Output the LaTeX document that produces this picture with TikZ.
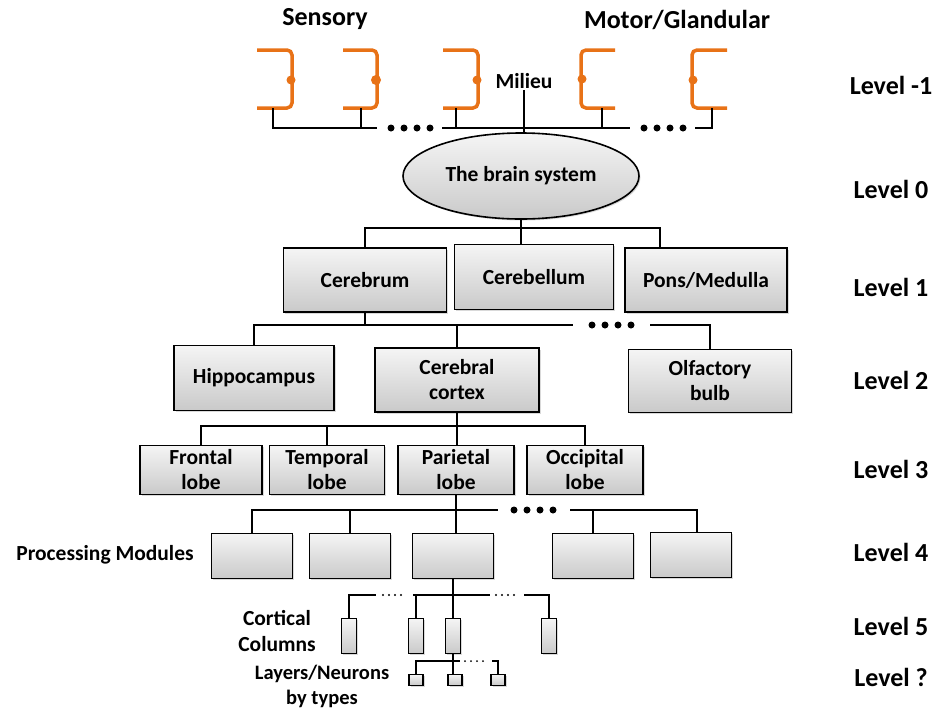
\documentclass[tikz,border=0pt]{standalone}
\usepackage{fontspec}
\setmainfont{Carlito}
\usepackage{tikz}
\usetikzlibrary{positioning}
\usetikzlibrary{shapes.geometric}
\usetikzlibrary{shadows}
\definecolor{brkorange}{RGB}{232,114,23}
\tikzset{
    wire/.style = {line width=2.5pt, black},
    thinwire/.style = {line width=2pt, black},
    gapdots/.style = {line width=7pt, line cap=round, dash pattern=on 0pt off 13pt},
    smalldots/.style = {line width=2.4pt, line cap=round, dash pattern=on 0pt off 6pt},
    brk/.style = {line width=3.5pt, brkorange, rounded corners=5pt},
    box/.style = {rectangle, draw=black, line width=1.6pt, top color=gray!8, bottom color=gray!42, align=center, inner sep=2pt, font=\bfseries\fontsize{21.5}{25}\selectfont, drop shadow={opacity=0.3, shadow xshift=1.5pt, shadow yshift=-1.5pt}},
    lvl/.style = {font=\bfseries\fontsize{26}{30}\selectfont},
    side/.style = {align=center, font=\bfseries\fontsize{21.5}{26}\selectfont},
}
\begin{document}
\begin{tikzpicture}[x=1pt, y=-1pt]
\useasboundingbox (0,0) rectangle (933,710);
% headers and level labels
\node[lvl] (sensory) at (325,19) {Sensory};
\node[lvl] (motor) at (677,20) {Motor/Glandular};
\node[side, inner sep=1pt] (milieu) at (524,81) {Milieu};
\node[lvl] (lvlm1) at (891,85) {Level -1};
\node[lvl] (lvl0) at (891,189) {Level 0};
\node[lvl] (lvl1) at (891,287) {Level 1};
\node[lvl] (lvl2) at (891,380) {Level 2};
\node[lvl] (lvl3) at (891,469) {Level 3};
\node[lvl] (lvl4) at (891,552) {Level 4};
\node[lvl] (lvl5) at (891,626) {Level 5};
\node[lvl] (lvlq) at (891,677) {Level ?};
\node[side] (pmlabel) at (105,555) {Processing Modules};
\node[side] (cclabel) at (277,631) {Cortical\\Columns};
\node[side, font=\bfseries\fontsize{20.5}{25}\selectfont] (lylabel) at (322,686) {Layers/Neurons\\by types};
%
% sensory / motor brackets
\draw[brk] (257,50) -- (292,50) -- (292,108) -- (257,108);
\draw[brk] (343,50) -- (377,50) -- (377,108) -- (343,108);
\draw[brk] (443,50) -- (478,50) -- (478,108) -- (443,108);
\draw[brk] (615,50) -- (581,50) -- (581,108) -- (615,108);
\draw[brk] (727,50) -- (692,50) -- (692,108) -- (727,108);
\fill[brkorange] (291,80) circle (4.5);
\fill[brkorange] (376,80) circle (5);
\fill[brkorange] (477,80) circle (4.5);
\fill[brkorange] (582,79) circle (4.5);
\fill[brkorange] (693,80) circle (4.5);
\coordinate (sA) at (273,108);
\coordinate (sB) at (361,108);
\coordinate (sC) at (456,108);
\coordinate (sD) at (602,108);
\coordinate (sE) at (712,108);
%
\node[box, ellipse, minimum width=236pt, minimum height=86pt] (brain) at (521,176) {The brain system};
%
\node[box, minimum width=163pt, minimum height=64pt] (cerebrum) at (365,280) {Cerebrum};
\node[box, minimum width=159pt, minimum height=65pt] (cerebellum) at (534,277) {Cerebellum};
\node[box, minimum width=162pt, minimum height=64pt] (pons) at (706,280) {Pons/Medulla};
%
\node[box, minimum width=160pt, minimum height=65pt] (hippo) at (254,378) {Hippocampus};
\node[box, minimum width=164pt, minimum height=64pt] (cortex) at (457,380) {Cerebral\\cortex};
\node[box, minimum width=163pt, minimum height=63pt] (olfact) at (710,381) {Olfactory\\bulb};
%
\node[box, minimum width=122pt, minimum height=49pt] (frontal) at (201,470) {Frontal\\lobe};
\node[box, minimum width=115pt, minimum height=49pt] (temporal) at (327,470) {Temporal\\lobe};
\node[box, minimum width=116pt, minimum height=49pt] (parietal) at (456,470) {Parietal\\lobe};
\node[box, minimum width=116pt, minimum height=49pt] (occipital) at (585,470) {Occipital\\lobe};
%
\node[box, minimum width=81pt, minimum height=45pt] (pm1) at (252,556) {};
\node[box, minimum width=81pt, minimum height=45pt] (pm2) at (350,556) {};
\node[box, minimum width=81pt, minimum height=45pt] (pm3) at (453,556) {};
\node[box, minimum width=81pt, minimum height=45pt] (pm4) at (593,556) {};
\node[box, minimum width=81pt, minimum height=45pt] (pm5) at (691,555) {};
%
\node[box, line width=1.3pt, minimum width=15pt, minimum height=35pt, inner sep=0pt] (cc1) at (349,636) {};
\node[box, line width=1.3pt, minimum width=15pt, minimum height=35pt, inner sep=0pt] (cc2) at (416,636) {};
\node[box, line width=1.3pt, minimum width=15pt, minimum height=35pt, inner sep=0pt] (cc3) at (453,636) {};
\node[box, line width=1.3pt, minimum width=15pt, minimum height=35pt, inner sep=0pt] (cc4) at (549,636) {};
%
\node[box, line width=1.2pt, minimum width=14pt, minimum height=11pt, inner sep=0pt] (ly1) at (416,680) {};
\node[box, line width=1.2pt, minimum width=14pt, minimum height=11pt, inner sep=0pt] (ly2) at (455,680) {};
\node[box, line width=1.2pt, minimum width=14pt, minimum height=11pt, inner sep=0pt] (ly3) at (498,680) {};
%
% level -1 bus
\coordinate (t1) at (377,128);
\coordinate (td1) at (391,128);
\coordinate (td2) at (431,128);
\coordinate (t2) at (442,128);
\coordinate (t3) at (630,128);
\coordinate (td3) at (644,128);
\coordinate (td4) at (684,128);
\coordinate (t4) at (695,128);
\draw[wire] (sA) |- (t1);
\draw[wire] (sB) -- (sB |- t1);
\draw[gapdots] (td1) -- (td2);
\draw[wire] (t2) -- (t3);
\draw[wire] (sC) -- (sC |- t2);
\draw[wire] (milieu.south) -- (milieu.south |- brain.north);
\draw[wire] (sD) -- (sD |- t2);
\draw[gapdots] (td3) -- (td4);
\draw[wire] (t4) -| (sE);
%
% level 1 bus
\coordinate (l1l) at (365,228);
\coordinate (l1r) at (660,228);
\draw[wire] (brain.south) -- (brain.south |- cerebellum.north);
\draw[wire] (cerebrum.north) -- (l1l) -- (l1r) -- (l1r |- pons.north);
%
% level 2 bus
\coordinate (l2l) at (255,325);
\coordinate (l2r) at (573,325);
\coordinate (l2d1) at (592,325);
\coordinate (l2d2) at (632,325);
\coordinate (l2e) at (650,325);
\draw[wire] (cerebrum.south) -- (cerebrum.south |- l2l);
\draw[wire] (hippo.north) |- (l2r);
\draw[wire] (cortex.north) -- (cortex.north |- l2l);
\draw[gapdots] (l2d1) -- (l2d2);
\draw[wire] (l2e) -| (olfact.north);
%
% level 3 bus
\coordinate (l3) at (456,426);
\draw[wire] (cortex.south) -- (cortex.south |- parietal.north);
\draw[wire] (frontal.north) |- (l3) -| (occipital.north);
\draw[wire] (temporal.north) -- (temporal.north |- l3);
%
% level 4 bus
\coordinate (m4a) at (498,510);
\coordinate (m4d1) at (514,510);
\coordinate (m4d2) at (554,510);
\coordinate (m4b) at (570,510);
\draw[wire] (parietal.south) -- (parietal.south |- pm3.north);
\draw[wire] (pm1.north) |- (m4a);
\draw[wire] (pm2.north) -- (pm2.north |- m4a);
\draw[gapdots] (m4d1) -- (m4d2);
\draw[wire] (m4b) -| ([xshift=6pt]pm5.north);
\draw[wire] (pm4.north) -- (pm4.north |- m4b);
%
% level 5 bus
\coordinate (c5a) at (376,595);
\coordinate (c5d1) at (383,595);
\coordinate (c5d2) at (407,595);
\coordinate (c5b) at (413,595);
\coordinate (c5c) at (490,595);
\coordinate (c5d3) at (496,595);
\coordinate (c5d4) at (518,595);
\coordinate (c5e) at (524,595);
\draw[wire] (pm3.south) -- (pm3.south |- cc3.north);
\draw[wire] (cc1.north) |- (c5a);
\draw[smalldots] (c5d1) -- (c5d2);
\draw[wire] (c5b) -- (c5c);
\draw[wire] (cc2.north) -- (cc2.north |- c5b);
\draw[smalldots] (c5d3) -- (c5d4);
\draw[wire] (c5e) -| (cc4.north);
%
% level ? bus
\coordinate (n6a) at (460,661);
\coordinate (n6d1) at (465,661);
\coordinate (n6d2) at (487,661);
\coordinate (n6b) at (492,661);
\draw[thinwire] (cc3.south) -- (cc3.south |- ly2.north);
\draw[thinwire] (ly1.north) |- (n6a);
\draw[smalldots, line width=2pt] (n6d1) -- (n6d2);
\draw[thinwire] (n6b) -| (ly3.north);
\end{tikzpicture}
\end{document}
